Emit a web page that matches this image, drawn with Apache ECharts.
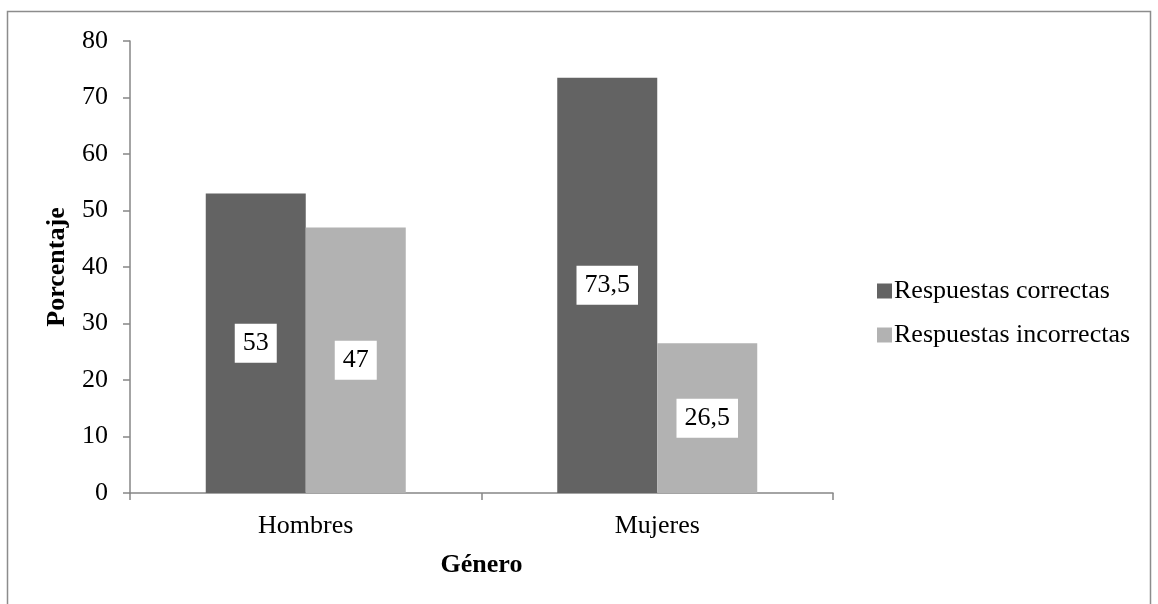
<!DOCTYPE html>
<html><head><meta charset="utf-8">
<script src="https://cdn.jsdelivr.net/npm/echarts@6/dist/echarts.min.js"></script>
<style>html,body{margin:0;padding:0;background:#fff}#c{width:1158px;height:604px}</style>
</head><body><div id="c"></div>
<script>
var categories = ['Hombres', 'Mujeres'];
var seriesNames = ['Respuestas correctas', 'Respuestas incorrectas'];
var correctas = [53, 73.5];
var incorrectas = [47, 26.5];
var yTicks = {min: 0, max: 80, interval: 10};

var font = '"Liberation Serif", "Times New Roman", serif';
var chart = echarts.init(document.getElementById('c'));
function lbl(){
  return {show: true, position: 'inside', color: '#000', fontFamily: font, fontSize: 26,
    backgroundColor: '#fff', padding: [7, 8, 6, 8], lineHeight: 26,
    formatter: function(p){ return String(p.value).replace('.', ','); }};
}
chart.setOption({
  animation: false,
  graphic: [{type: 'rect', shape: {x: 7.5, y: 11.5, width: 1143, height: 620}, style: {fill: 'none', stroke: '#8c8c8c', lineWidth: 1.5}}],
  grid: {left: 130, right: 325, top: 41, bottom: 111},
  legend: {orient: 'vertical', left: 872, top: 273, itemWidth: 15, itemHeight: 15, itemGap: 18,
    icon: 'rect', textStyle: {fontFamily: font, fontSize: 26, color: '#000', padding: [0,0,0,-3]},
    data: seriesNames},
  xAxis: {type: 'category', data: categories, name: 'Género', nameLocation: 'middle', nameGap: 59,
    nameTextStyle: {fontFamily: font, fontSize: 26, fontWeight: 'bold', color: '#000'},
    axisLine: {lineStyle: {color: '#868686', width: 1.5}},
    axisTick: {show: true, length: 7, lineStyle: {color: '#868686', width: 1.5}},
    axisLabel: {fontFamily: font, fontSize: 26, color: '#000', margin: 20}},
  yAxis: {type: 'value', min: yTicks.min, max: yTicks.max, interval: yTicks.interval,
    name: 'Porcentaje', nameLocation: 'middle', nameGap: 60,
    nameTextStyle: {fontFamily: font, fontSize: 26, fontWeight: 'bold', color: '#000'},
    splitLine: {show: false},
    axisLine: {show: true, lineStyle: {color: '#868686', width: 1.5}},
    axisTick: {show: true, length: 7, lineStyle: {color: '#868686', width: 1.5}},
    axisLabel: {fontFamily: font, fontSize: 26, color: '#000', margin: 22}},
  series: [
    {name: seriesNames[0], type: 'bar', data: correctas, barWidth: 100, barGap: '0%',
      itemStyle: {color: '#636363'}, label: lbl()},
    {name: seriesNames[1], type: 'bar', data: incorrectas, barWidth: 100, barGap: '0%',
      itemStyle: {color: '#b2b2b2'}, label: lbl()}
  ]
});
</script></body></html>
